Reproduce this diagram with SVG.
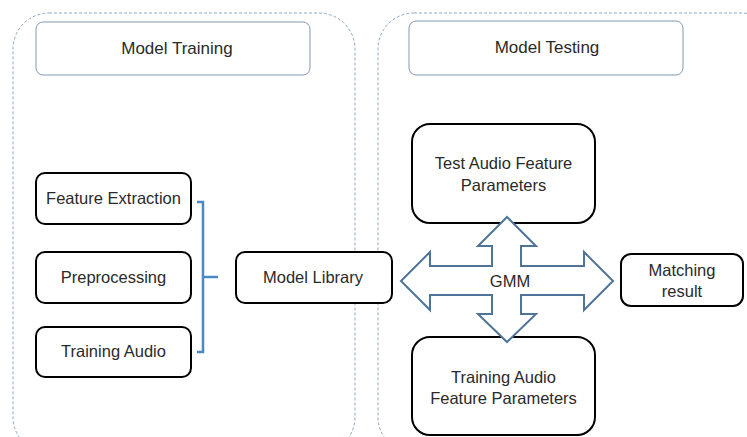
<svg xmlns="http://www.w3.org/2000/svg" width="747" height="437" viewBox="0 0 747 437">
  <style>
    .panel { fill: none; stroke: #8ea8c3; stroke-width: 1; stroke-dasharray: 3 2; }
    .title { fill: #ffffff; stroke: #8499b3; stroke-width: 1; }
    .node { fill: #ffffff; stroke: #000000; stroke-width: 2; }
    .txt { font-family: "Liberation Sans", Arial, sans-serif; font-size: 16.5px; fill: #2a2a2a; text-anchor: middle; }
    .big { font-size: 17px; }
    .bracket { fill: none; stroke: #4d87c4; stroke-width: 2.5; }
    .cross { fill: #ffffff; stroke: #4f7499; stroke-width: 2; stroke-linejoin: miter; }
  </style>

  <!-- dashed section panels -->
  <rect class="panel" x="13" y="13" width="342" height="440" rx="36"/>
  <rect class="panel" x="378" y="13" width="400" height="440" rx="36"/>

  <g id="title-training">
    <rect class="title" x="36" y="22" width="274" height="53" rx="7"/>
    <text class="txt big" x="177" y="54">Model Training</text>
  </g>
  <g id="title-testing">
    <rect class="title" x="409" y="21" width="274" height="54" rx="7"/>
    <text class="txt big" x="547" y="53">Model Testing</text>
  </g>

  <g id="feature-extraction">
    <rect class="node" x="36" y="173" width="155" height="51" rx="9"/>
    <text class="txt" x="113.5" y="204">Feature Extraction</text>
  </g>
  <g id="preprocessing">
    <rect class="node" x="36" y="252" width="155" height="51" rx="9"/>
    <text class="txt" x="113.5" y="283">Preprocessing</text>
  </g>
  <g id="training-audio">
    <rect class="node" x="36" y="327" width="155" height="50" rx="9"/>
    <text class="txt" x="113.5" y="357">Training Audio</text>
  </g>
  <g id="model-library">
    <rect class="node" x="236" y="252" width="156" height="51" rx="9"/>
    <text class="txt" x="313" y="283">Model Library</text>
  </g>
  <g id="test-features">
    <rect class="node" x="412" y="124" width="183" height="99" rx="18"/>
    <text class="txt" x="503.5" y="169">Test Audio Feature</text>
    <text class="txt" x="503.5" y="191">Parameters</text>
  </g>
  <g id="training-features">
    <rect class="node" x="412" y="337" width="183" height="98" rx="18"/>
    <text class="txt" x="503.5" y="383">Training Audio</text>
    <text class="txt" x="503.5" y="404">Feature Parameters</text>
  </g>
  <g id="matching-result">
    <rect class="node" x="621" y="254" width="122" height="52" rx="10"/>
    <text class="txt" x="682" y="276">Matching</text>
    <text class="txt" x="682" y="297">result</text>
  </g>

  <g id="connectors">
    <!-- bracket joining the training steps to the model library -->
    <path class="bracket" d="M197 202 H203 V352 H197 M203 277 H218"/>
    <!-- four-way GMM arrow -->
    <path class="cross" d="M401 281 L430 252 L430 266 L492 266 L492 246 L478 246 L507 217 L536 246 L521 246 L521 266 L584 266 L584 252 L613 281 L584 310 L584 295 L521 295 L521 314 L536 314 L507 342 L478 314 L492 314 L492 295 L430 295 L430 310 Z"/>
    <text class="txt" x="510" y="287">GMM</text>
  </g>
</svg>
